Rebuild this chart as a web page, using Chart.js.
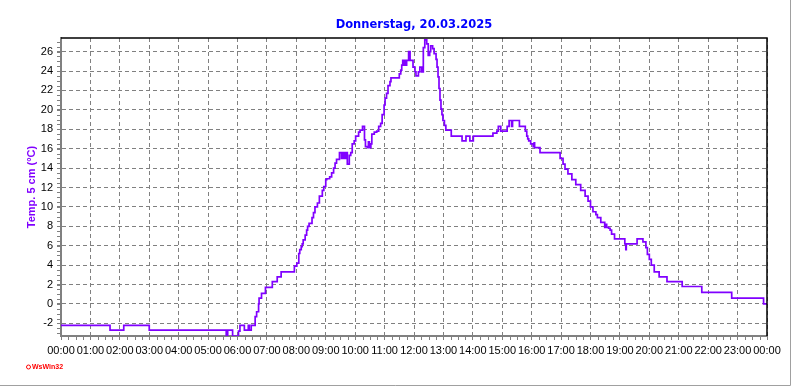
<!DOCTYPE html>
<html>
<head>
<meta charset="utf-8">
<script src="https://cdn.jsdelivr.net/npm/chart.js@4/dist/chart.umd.min.js"></script>
<style>
  html, body { margin: 0; padding: 0; background: #fff; }
  canvas { display: block; }
</style>
</head>
<body>
<canvas id="chart" width="792" height="387"></canvas>
<script>
// Temperatur 5 cm, Donnerstag 20.03.2025 (Zeitpunkt der Änderung -> neuer Wert)
const times = ['00:00','01:40','02:08','03:00','05:37','05:40','05:50','06:02','06:05','06:14',
  '06:22','06:24','06:28','06:36','06:39','06:43','06:44','06:49','06:57','07:11',
  '07:21','07:29','07:56','08:01','08:05','08:07','08:10','08:12','08:14','08:18',
  '08:21','08:23','08:26','08:32','08:35','08:38','08:43','08:47','08:53','08:56',
  '09:00','09:02','09:08','09:12','09:16','09:19','09:22','09:28','09:32','09:34',
  '09:36','09:38','09:40','09:41','09:44','09:48','09:51','09:54','09:58','10:01',
  '10:07','10:10','10:15','10:19','10:21','10:25','10:27','10:29','10:32','10:34',
  '10:39','10:44','10:48','10:52','10:55','10:59','11:01','11:04','11:07','11:11',
  '11:13','11:30','11:33','11:35','11:37','11:39','11:41','11:43','11:45','11:49',
  '11:52','11:58','12:02','12:04','12:09','12:12','12:16','12:19','12:22','12:26',
  '12:29','12:32','12:34','12:38','12:41','12:45','12:47','12:49','12:51','12:53',
  '12:55','12:57','12:59','13:02','13:05','13:16','13:38','13:46','13:54','14:01',
  '14:41','14:49','14:52','14:57','15:10','15:14','15:19','15:21','15:35','15:47',
  '15:50','15:52','15:54','15:58','16:03','16:05','16:06','16:17','16:58','17:04',
  '17:08','17:14','17:22','17:30','17:40','17:49','17:55','18:00','18:05','18:11',
  '18:14','18:21','18:29','18:31','18:33','18:37','18:40','18:43','18:49','19:10',
  '19:12','19:13','19:35','19:47','19:53','19:56','20:00','20:04','20:10','20:20',
  '20:36','21:07','21:47','22:48','23:53','24:00'];
const temps = [-2.2,-2.7,-2.2,-2.7,-3.3,-2.7,-3.3,-2.8,-2.2,-2.7,
  -2.2,-2.7,-2.2,-1.3,-0.8,0.0,0.6,1.1,1.7,2.3,
  2.8,3.3,3.9,4.2,5.2,5.6,5.9,6.2,6.6,7.1,
  7.6,8.0,8.3,8.9,9.4,10.0,10.4,11.1,11.7,12.1,
  12.8,12.9,13.1,13.5,14.0,14.5,14.9,15.6,15.0,15.6,
  15.0,15.6,15.0,15.6,14.4,15.3,15.6,16.5,16.8,17.3,
  17.7,17.9,18.3,16.9,16.2,16.1,16.7,16.1,16.5,17.5,
  17.7,17.8,18.3,18.6,19.5,20.5,21.2,21.7,22.5,22.9,
  23.3,23.7,24.1,24.6,25.1,24.6,25.1,24.6,25.1,26.0,
  25.1,24.4,23.9,23.5,23.9,24.4,23.9,26.4,27.2,26.8,
  25.6,26.0,26.6,26.3,25.8,25.2,24.4,23.4,22.2,21.0,
  20.1,19.5,18.9,18.4,17.9,17.3,16.8,17.3,16.8,17.3,
  17.6,17.8,18.3,17.8,18.3,18.9,18.3,18.9,18.3,17.8,
  17.3,17.0,16.8,16.5,16.2,16.6,16.1,15.6,15.0,14.4,
  13.9,13.4,12.8,12.3,11.7,11.1,10.6,10.0,9.5,9.2,
  8.9,8.4,7.9,8.2,7.9,7.8,7.6,7.2,6.7,6.2,
  5.6,6.2,6.7,6.4,5.8,5.1,4.6,4.0,3.3,2.8,
  2.3,1.8,1.2,0.6,0.0,0.0];
const yTicks = [-2,0,2,4,6,8,10,12,14,16,18,20,22,24,26];
const hourTicks = [0,1,2,3,4,5,6,7,8,9,10,11,12,13,14,15,16,17,18,19,20,21,22,23,24];

const title = 'Donnerstag, 20.03.2025';
const yTitle = 'Temp. 5 cm (°C)';

const toHours = t => { const p = t.split(':'); return Number(p[0]) + Number(p[1]) / 60; };
const points = times.map((t, i) => ({ x: toHours(t), y: temps[i] }));

const extras = {
  id: 'extras',
  afterDraw(chart) {
    const ctx = chart.ctx;
    const a = chart.chartArea;
    const xs = chart.scales.x, ys = chart.scales.y;
    ctx.save();
    // Nebenstriche
    ctx.strokeStyle = '#808080';
    ctx.lineWidth = 1;
    ctx.beginPath();
    for (let q = 0; q <= 96; q++) {
      if (q % 4 === 0) continue;
      const x = Math.round(xs.getPixelForValue(q / 4)) + 0.5;
      ctx.moveTo(x, a.bottom + 1);
      ctx.lineTo(x, a.bottom + 4);
    }
    for (let v = -3; v <= 27; v += 0.5) {
      const y = Math.round(ys.getPixelForValue(v)) + 0.5;
      ctx.moveTo(a.left - 1, y);
      ctx.lineTo(a.left - 4, y);
    }
    ctx.stroke();
    // Rahmen oben/rechts
    ctx.strokeStyle = '#000';
    ctx.lineWidth = 1.5;
    ctx.beginPath();
    ctx.moveTo(a.left, a.top);
    ctx.lineTo(a.right, a.top);
    ctx.lineTo(a.right, a.bottom);
    ctx.stroke();
    // Titel
    ctx.fillStyle = '#0000ff';
    ctx.font = 'bold 11.5px "DejaVu Sans"';
    ctx.textAlign = 'center';
    ctx.textBaseline = 'alphabetic';
    ctx.fillText(title, (a.left + a.right) / 2, 28);
    // Achsentitel
    ctx.save();
    ctx.translate(32, (a.top + a.bottom) / 2);
    ctx.rotate(-Math.PI / 2);
    ctx.fillStyle = '#8000ff';
    ctx.font = 'bold 11px "Liberation Sans"';
    ctx.textBaseline = 'middle';
    ctx.fillText(yTitle, 0, 0);
    ctx.restore();
    // Logo
    ctx.strokeStyle = '#ff0000';
    ctx.fillStyle = '#ff0000';
    ctx.lineWidth = 1;
    ctx.beginPath();
    ctx.arc(28.5, 367, 2, 0, Math.PI * 2);
    ctx.stroke();
    ctx.font = 'bold 7px "Liberation Sans"';
    ctx.textAlign = 'left';
    ctx.textBaseline = 'middle';
    ctx.fillText('WsWin32', 32, 367.5);
    // Fensterrand
    ctx.strokeStyle = '#a0a0a0';
    ctx.beginPath();
    ctx.moveTo(790.5, 0);
    ctx.lineTo(790.5, 385.5);
    ctx.lineTo(0, 385.5);
    ctx.stroke();
    ctx.restore();
  }
};

new Chart(document.getElementById('chart').getContext('2d'), {
  type: 'line',
  data: {
    datasets: [{
      data: points,
      borderColor: '#8000ff',
      borderWidth: 1.7,
      pointRadius: 0,
      stepped: true,
      fill: false
    }]
  },
  options: {
    responsive: false,
    animation: false,
    devicePixelRatio: 1,
    layout: { padding: { left: 0, right: 25, top: 38, bottom: 0 } },
    plugins: { legend: { display: false }, tooltip: { enabled: false }, title: { display: false } },
    scales: {
      x: {
        type: 'linear',
        min: 0,
        max: 24,
        afterFit: s => { s.height = 51; },
        afterBuildTicks: s => { s.ticks = hourTicks.map(v => ({ value: v })); },
        ticks: {
          autoSkip: false,
          maxRotation: 0,
          minRotation: 0,
          padding: 4,
          color: '#000',
          font: { family: 'Liberation Sans', size: 11 },
          callback: v => String(v % 24).padStart(2, '0') + ':00'
        },
        grid: { color: '#808080', lineWidth: 1, tickLength: 4, tickColor: '#808080', tickBorderDash: [] },
        border: { color: '#808080', width: 2, dash: [4, 3] }
      },
      y: {
        min: -3.3,
        max: 27.4,
        afterFit: s => { s.width = 61; },
        afterBuildTicks: s => { s.ticks = yTicks.map(v => ({ value: v })); },
        ticks: {
          padding: 4,
          color: '#000',
          font: { family: 'Liberation Sans', size: 11 }
        },
        grid: { color: '#808080', lineWidth: 1, tickLength: 4, tickColor: '#808080', tickBorderDash: [] },
        border: { color: '#808080', width: 2, dash: [4, 3] }
      }
    }
  },
  plugins: [extras]
});
</script>
</body>
</html>
